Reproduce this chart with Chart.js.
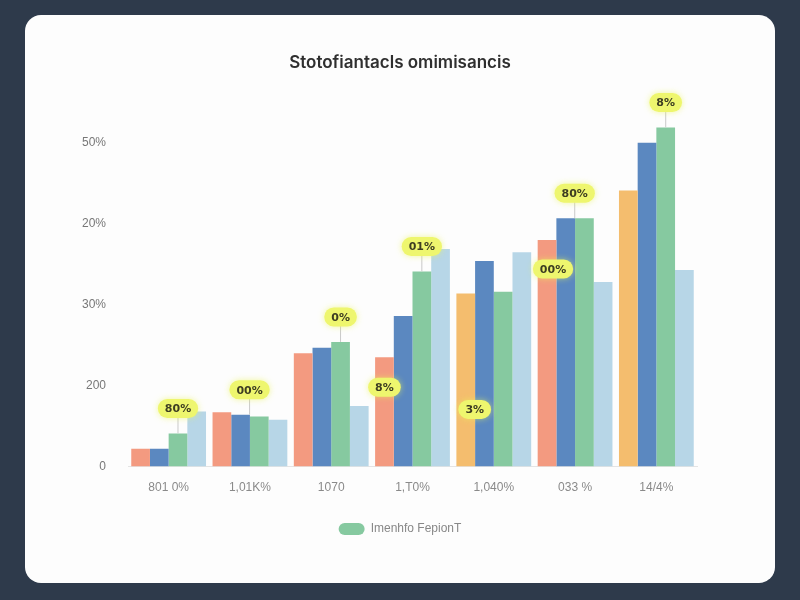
<!DOCTYPE html>
<html>
<head>
<meta charset="utf-8">
<script src="https://cdn.jsdelivr.net/npm/chart.js@4.4.1/dist/chart.umd.min.js"></script>
<style>
  html, body { margin: 0; padding: 0; }
  body { width: 800px; height: 600px; background: #2e3a4b; position: relative; overflow: hidden; }
  .card { position: absolute; left: 25px; top: 15px; width: 750px; height: 568px; background: #fdfdfd; border-radius: 16px; }
  .card canvas { display: block; }
</style>
</head>
<body>
<div class="card"><canvas id="chart" width="750" height="568"></canvas></div>
<script>
// chart values
var categories = ['801 0%', '1,01K%', '1070', '1,T0%', '1,040%', '033 %', '14/4%'];
var yTickLabels = ['0', '200', '30%', '20%', '50%'];
var seriesA = [22, 67, 140, 135, 214, 280, 341];
var seriesB = [22, 64, 147, 186, 254, 307, 400];
var seriesC = [41, 62, 154, 241, 216, 307, 419];
var seriesD = [68, 58, 75, 269, 265, 228, 243];
var seriesNames = ['Series A', 'Series B', 'Imenhfo FepionT', 'Series D'];

// bubbles: [dataset, index, text, mode, dx, dy]
var bubbles = [
  [2, 0, '80%', 'above', 0, 0],
  [1, 1, '00%', 'above', 9, 0],
  [2, 2, '0%', 'above', 0, 0],
  [0, 3, '8%', 'inside', 0, 30],
  [2, 3, '01%', 'above', 0, 0],
  [0, 4, '3%', 'inside', 9, 116],
  [0, 5, '00%', 'inside', 6, 29],
  [1, 5, '80%', 'above', 9, 0],
  [2, 6, '8%', 'above', 0, 0]
];

var salmon = '#f39a80', orange = '#f4bd6e', blue = '#5b88c0', green = '#86c9a0', light = '#b7d6e7';

var bubblePlugin = {
  id: 'bubbles',
  afterDatasetsDraw: function(chart) {
    var ctx = chart.ctx;
    bubbles.forEach(function(b) {
      var bar = chart.getDatasetMeta(b[0]).data[b[1]];
      var x = bar.x + b[4];
      var y;
      ctx.save();
      if (b[3] == 'above') {
        y = bar.y - 25;
        ctx.strokeStyle = '#c9c9c9';
        ctx.lineWidth = 1;
        ctx.beginPath();
        ctx.moveTo(x, y + 9);
        ctx.lineTo(x, bar.y);
        ctx.stroke();
      } else {
        y = bar.y + b[5];
      }
      ctx.font = '600 11px "DejaVu Sans"';
      var w = Math.max(ctx.measureText(b[2]).width + 14, 26);
      var h = 19;
      ctx.shadowColor = 'rgba(235,245,90,0.6)';
      ctx.shadowBlur = 6;
      ctx.fillStyle = '#eef66e';
      ctx.beginPath();
      ctx.roundRect(x - w / 2, y - h / 2, w, h, h / 2);
      ctx.fill();
      ctx.shadowBlur = 0;
      ctx.fillStyle = '#3d3d22';
      ctx.textAlign = 'center';
      ctx.textBaseline = 'middle';
      ctx.fillText(b[2], x, y + 1);
      ctx.restore();
    });
  }
};

var ctx = document.getElementById('chart').getContext('2d');
var myChart = new Chart(ctx, {
  type: 'bar',
  data: {
    labels: categories,
    datasets: [
      { label: seriesNames[0], data: seriesA, backgroundColor: [salmon, salmon, salmon, salmon, orange, salmon, orange] },
      { label: seriesNames[1], data: seriesB, backgroundColor: blue },
      { label: seriesNames[2], data: seriesC, backgroundColor: green },
      { label: seriesNames[3], data: seriesD, backgroundColor: light }
    ]
  },
  options: {
    responsive: false,
    animation: false,
    categoryPercentage: 0.92,
    barPercentage: 1.0,
    layout: { padding: { left: 0, right: 0, top: 0, bottom: 38 } },
    plugins: {
      title: {
        display: true,
        text: 'Stotofiantacls omimisancis',
        color: '#2f2f2f',
        font: { family: 'Inter', size: 17, weight: '600' },
        padding: { top: 38, bottom: 29 }
      },
      legend: {
        position: 'bottom',
        labels: {
          filter: function(item) { return item.datasetIndex == 2; },
          color: '#888',
          font: { family: 'Liberation Sans', size: 12 },
          boxWidth: 26,
          boxHeight: 12,
          useBorderRadius: true,
          borderRadius: 6,
          padding: 14
        }
      },
      tooltip: { enabled: false }
    },
    scales: {
      x: {
        grid: { display: false, drawTicks: false },
        border: { display: true, color: '#e4e4e4' },
        ticks: { color: '#8a8a8a', font: { family: 'Liberation Sans', size: 12 }, padding: 14 }
      },
      y: {
        min: 0,
        max: 450,
        afterFit: function(scale) { scale.width = 103; },
        grid: { display: false, drawTicks: false },
        border: { display: false },
        ticks: {
          stepSize: 100,
          padding: 22,
          color: '#777',
          font: { family: 'Liberation Sans', size: 12 },
          callback: function(v) { return yTickLabels[v / 100]; }
        }
      },
      // empty right margin so title and legend stay centred on the card
      yRight: {
        position: 'right',
        afterFit: function(scale) { scale.width = 78; },
        grid: { display: false, drawTicks: false },
        border: { display: false },
        ticks: { display: false }
      }
    }
  },
  plugins: [bubblePlugin]
});
</script>
</body>
</html>
